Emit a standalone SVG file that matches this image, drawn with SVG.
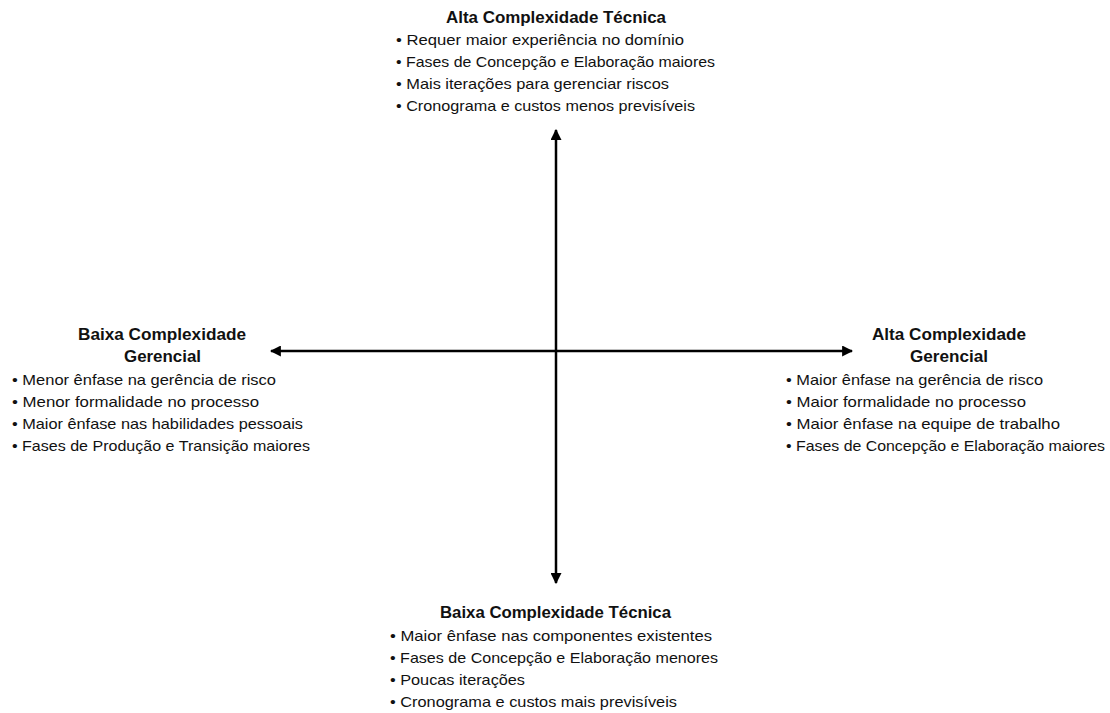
<svg xmlns="http://www.w3.org/2000/svg" width="1110" height="713" viewBox="0 0 1110 713">
  <style>
    text { font-family: "Liberation Sans", Arial, sans-serif; fill: #111; }
    .title { font-size: 16px; font-weight: bold; }
    .item { font-size: 15px; }
    .axis { stroke: #000; stroke-width: 2.5; fill: none; }
  </style>
  <defs>
    <marker id="arrow" viewBox="0 0 10 10" refX="9" refY="5" markerWidth="4.4" markerHeight="4.4" orient="auto" markerUnits="strokeWidth">
      <path d="M0,0 L10,5 L0,10 z" fill="#000"/>
    </marker>
  </defs>

  <rect width="1110" height="713" fill="#fff"/>

  <!-- axes -->
  <g id="connectors">
    <line class="axis" x1="556" y1="351" x2="556" y2="130" marker-end="url(#arrow)"/>
    <line class="axis" x1="556" y1="351" x2="556" y2="583" marker-end="url(#arrow)"/>
    <line class="axis" x1="556" y1="351" x2="271" y2="351" marker-end="url(#arrow)"/>
    <line class="axis" x1="556" y1="351" x2="852" y2="351" marker-end="url(#arrow)"/>
  </g>

  <!-- top: high technical complexity -->
  <g id="alta-tecnica">
    <text class="title" x="446" y="23" textLength="220" lengthAdjust="spacingAndGlyphs">Alta Complexidade Técnica</text>
    <text class="item" x="396" y="45" textLength="288" lengthAdjust="spacingAndGlyphs">• Requer maior experiência no domínio</text>
    <text class="item" x="396" y="67" textLength="319" lengthAdjust="spacingAndGlyphs">• Fases de Concepção e Elaboração maiores</text>
    <text class="item" x="396" y="89" textLength="273" lengthAdjust="spacingAndGlyphs">• Mais iterações para gerenciar riscos</text>
    <text class="item" x="396" y="111" textLength="299" lengthAdjust="spacingAndGlyphs">• Cronograma e custos menos previsíveis</text>
  </g>

  <!-- left: low managerial complexity -->
  <g id="baixa-gerencial">
    <text class="title" x="78" y="340" textLength="168" lengthAdjust="spacingAndGlyphs">Baixa Complexidade</text>
    <text class="title" x="124" y="362" textLength="77" lengthAdjust="spacingAndGlyphs">Gerencial</text>
    <text class="item" x="12" y="385" textLength="264" lengthAdjust="spacingAndGlyphs">• Menor ênfase na gerência de risco</text>
    <text class="item" x="12" y="407" textLength="247" lengthAdjust="spacingAndGlyphs">• Menor formalidade no processo</text>
    <text class="item" x="12" y="429" textLength="291" lengthAdjust="spacingAndGlyphs">• Maior ênfase nas habilidades pessoais</text>
    <text class="item" x="12" y="451" textLength="298" lengthAdjust="spacingAndGlyphs">• Fases de Produção e Transição maiores</text>
  </g>

  <!-- right: high managerial complexity -->
  <g id="alta-gerencial">
    <text class="title" x="872" y="340" textLength="154" lengthAdjust="spacingAndGlyphs">Alta Complexidade</text>
    <text class="title" x="910" y="362" textLength="78" lengthAdjust="spacingAndGlyphs">Gerencial</text>
    <text class="item" x="786" y="385" textLength="257" lengthAdjust="spacingAndGlyphs">• Maior ênfase na gerência de risco</text>
    <text class="item" x="786" y="407" textLength="240" lengthAdjust="spacingAndGlyphs">• Maior formalidade no processo</text>
    <text class="item" x="786" y="429" textLength="274" lengthAdjust="spacingAndGlyphs">• Maior ênfase na equipe de trabalho</text>
    <text class="item" x="786" y="451" textLength="319" lengthAdjust="spacingAndGlyphs">• Fases de Concepção e Elaboração maiores</text>
  </g>

  <!-- bottom: low technical complexity -->
  <g id="baixa-tecnica">
    <text class="title" x="440" y="618" textLength="231" lengthAdjust="spacingAndGlyphs">Baixa Complexidade Técnica</text>
    <text class="item" x="390" y="641" textLength="322" lengthAdjust="spacingAndGlyphs">• Maior ênfase nas componentes existentes</text>
    <text class="item" x="390" y="663" textLength="328" lengthAdjust="spacingAndGlyphs">• Fases de Concepção e Elaboração menores</text>
    <text class="item" x="390" y="685" textLength="135" lengthAdjust="spacingAndGlyphs">• Poucas iterações</text>
    <text class="item" x="390" y="707" textLength="287" lengthAdjust="spacingAndGlyphs">• Cronograma e custos mais previsíveis</text>
  </g>
</svg>
